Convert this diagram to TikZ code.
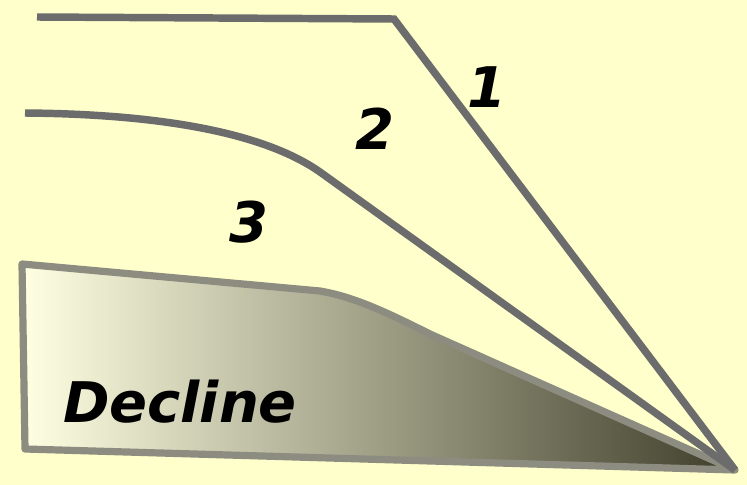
\documentclass[tikz,border=0pt]{standalone}
\usepackage{fontspec}
\setmainfont{DejaVu Sans}
\definecolor{bgyellow}{HTML}{FFFFCC}
\definecolor{linegray}{HTML}{6C6C6C}
\definecolor{bordergray}{HTML}{8C8C80}
\definecolor{shadelight}{HTML}{FFFFE2}
\definecolor{shademid}{HTML}{A4A486}
\definecolor{shadedark}{HTML}{3E3E2A}
\tikzset{
  curveline/.style={draw=linegray, line width=5.6pt, line join=miter},
  declinebox/.style={draw=bordergray, line width=5.4pt, line join=round, left color=shadelight, middle color=shademid, right color=shadedark},
  lbl/.style={font=\fontsize{42}{42}\selectfont\bfseries\itshape, inner sep=0pt, anchor=base, text=black}
}
\begin{document}
\begin{tikzpicture}[x=0.75pt,y=-0.75pt]
\useasboundingbox (0,0) rectangle (747,485);
\fill[bgyellow] (0,0) rectangle (747,485);
\coordinate (tip) at (735,470);
% area 3 (Decline)
\path[declinebox] (22,264) -- (320,291) .. controls (355,297) and (388,313) .. (430,334) -- (tip) -- (25,449) -- cycle;
% curve 2
\draw[curveline] (25,113) .. controls (150,114) and (260,130) .. (320,172) -- (tip);
% line 1
\draw[curveline] (37,17) -- (394,19) -- (tip);
\node[lbl] (n1) at (487,108) {1};
\node[lbl] (n2) at (375,150) {2};
\node[lbl] (n3) at (249,243) {3};
\node[lbl] (dec) at (180,422) {Decline};
\end{tikzpicture}
\end{document}
